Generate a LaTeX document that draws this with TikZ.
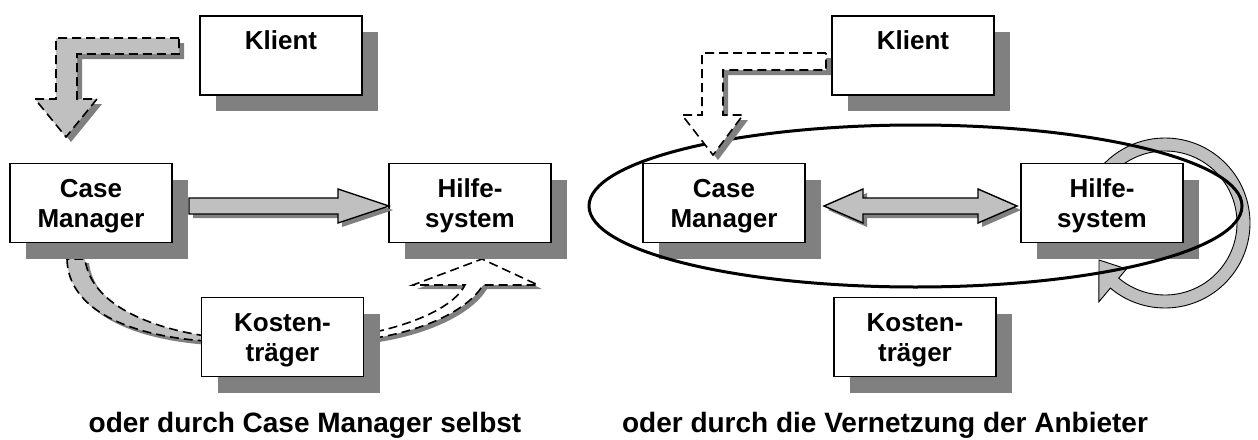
\documentclass[tikz,border=0pt]{standalone}
\usepackage{fontspec}
\setmainfont{Liberation Sans}
\usetikzlibrary{shadows}
\definecolor{arrowfill}{RGB}{192,192,192}
\definecolor{shadowgray}{RGB}{128,128,128}
\begin{document}
\begin{tikzpicture}[x=1pt,y=-1pt,
  box/.style={draw=black, line width=1.5pt, fill=white, inner sep=0pt,
    minimum width=162pt, minimum height=79pt,
    drop shadow={shadow xshift=16pt, shadow yshift=-16pt, fill=shadowgray, opacity=1}},
  boxtext/.style={inner sep=0pt, align=center, font=\fontsize{26}{30}\selectfont\bfseries},
  caption/.style={inner sep=0pt, anchor=base, font=\fontsize{28}{34}\selectfont\bfseries},
  dashline/.style={line width=1.6pt, dash pattern=on 9pt off 5pt},
  blockshadow/.style={fill=shadowgray, draw=none},
  solidblock/.style={fill=arrowfill, draw=black, line width=1.4pt, line join=miter},
  grayblock/.style={fill=arrowfill, draw=black, dashline},
  whiteblock/.style={fill=white, draw=black, dashline}
]
\useasboundingbox (0,0) rectangle (1258,439);

% ---------------- left panel ----------------
% curved band Case Manager -> Kostentraeger
\fill[blockshadow, shift={(4,4)}]
  (67,259) .. controls (68,310) and (130,336) .. (206,341)
  -- (206,336) .. controls (140,326) and (90,300) .. (85,259) -- cycle;
\path[grayblock]
  (67,259) .. controls (68,310) and (130,336) .. (206,341)
  -- (206,336) .. controls (140,326) and (90,300) .. (85,259) -- cycle;

% curved band Kostentraeger -> Hilfesystem
\fill[blockshadow, shift={(4,4)}]
  (375,332) .. controls (420,322) and (455,305) .. (465,285)
  -- (413,285) -- (482,259) -- (538,285) -- (483,285)
  .. controls (468,310) and (425,330) .. (375,338) -- cycle;
\path[whiteblock]
  (375,332) .. controls (420,322) and (455,305) .. (465,285)
  -- (413,285) -- (482,259) -- (538,285) -- (483,285)
  .. controls (468,310) and (425,330) .. (375,338) -- cycle;

% boxes
\node[box] (klientL) at (281,55.5) {};
\node[box] (caseL)   at (91,203)   {};
\node[box] (hilfeL)  at (470,203)  {};
\node[box] (kostenL) at (282.5,337) {};
\node[boxtext] (klientLt) at ([yshift=-3pt]klientL.center) {\strut Klient\\\strut};
\node[boxtext] (caseLt)   at ([yshift=-3pt]caseL.center)   {\strut Case\\\strut Manager};
\node[boxtext] (hilfeLt)  at ([yshift=-3pt]hilfeL.center)  {\strut Hilfe-\\\strut system};
\node[boxtext] (kostenLt) at ([yshift=-3pt]kostenL.center) {\strut Kosten-\\\strut tr\"ager};

% L-shaped arrow Klient -> Case Manager
\fill[blockshadow, shift={(5,5)}]
  (179,38) -- (56,38) -- (56,99) -- (35,99) -- (66,137) -- (97,99)
  -- (77,99) -- (77,54) -- (179,54) -- cycle;
\path[grayblock]
  (179,38) -- (56,38) -- (56,99) -- (35,99) -- (66,137) -- (97,99)
  -- (77,99) -- (77,54) -- (179,54) -- cycle;

% straight arrow Case Manager -> Hilfesystem
\fill[blockshadow, shift={(4,4)}]
  (189,198) -- (338,198) -- (338,189) -- (389,206) -- (338,223)
  -- (338,214) -- (189,214) -- cycle;
\path[solidblock]
  (189,198) -- (338,198) -- (338,189) -- (389,206) -- (338,223)
  -- (338,214) -- (189,214) -- cycle;

\node[caption] (capL) at (305,432) {oder durch Case Manager selbst};

% ---------------- right panel ----------------
% circular arrow leaving the Hilfesystem and coming back to it
\begin{scope}[shift={(1165,223)}]
\path[fill=arrowfill, draw=black, line width=0.9pt, line join=miter]
  (220:85) arc (220:490:85) -- (490:103) -- (-66,37) -- (490:60)
  -- (490:72) arc (490:220:72) -- cycle;
\end{scope}

% boxes
\node[box] (klientR) at (913,55.5) {};
\node[box] (caseR)   at (724,203)  {};
\node[box] (hilfeR)  at (1102,203) {};
\node[box] (kostenR) at (915,337)  {};
\node[boxtext] (klientRt) at ([yshift=-3pt]klientR.center) {\strut Klient\\\strut};
\node[boxtext] (caseRt)   at ([yshift=-3pt]caseR.center)   {\strut Case\\\strut Manager};
\node[boxtext] (hilfeRt)  at ([yshift=-3pt]hilfeR.center)  {\strut Hilfe-\\\strut system};
\node[boxtext] (kostenRt) at ([yshift=-3pt]kostenR.center) {\strut Kosten-\\\strut tr\"ager};

% network ellipse
\draw[line width=3pt] (915.5,206) ellipse [x radius=326.5, y radius=81];

% double arrow Case Manager <-> Hilfesystem
\fill[blockshadow, shift={(4,4)}]
  (824,206) -- (863,189) -- (863,198) -- (978,198) -- (978,189) -- (1017,206)
  -- (978,223) -- (978,214) -- (863,214) -- (863,223) -- cycle;
\path[solidblock]
  (824,206) -- (863,189) -- (863,198) -- (978,198) -- (978,189) -- (1017,206)
  -- (978,223) -- (978,214) -- (863,214) -- (863,223) -- cycle;

% L-shaped arrow Klient -> Case Manager
\fill[blockshadow, shift={(5,5)}]
  (826,53) -- (702,53) -- (702,115) -- (682,115) -- (713,155) -- (743,115)
  -- (723,115) -- (723,70) -- (826,70) -- cycle;
\path[whiteblock]
  (826,53) -- (702,53) -- (702,115) -- (682,115) -- (713,155) -- (743,115)
  -- (723,115) -- (723,70) -- (826,70) -- cycle;

\node[caption] (capR) at (885,432) {oder durch die Vernetzung der Anbieter};
\end{tikzpicture}
\end{document}
